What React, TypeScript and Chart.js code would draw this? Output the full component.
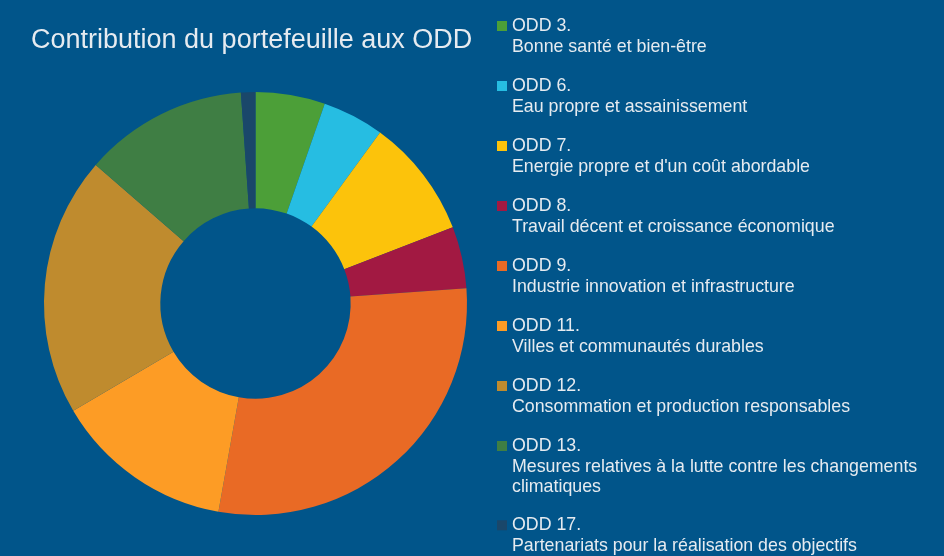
import React, { useEffect, useRef } from "react";
import { Chart, registerables } from "chart.js";

Chart.register(...registerables);

const TITLE = "Contribution du portefeuille aux ODD";
const codes = ["ODD 3.", "ODD 6.", "ODD 7.", "ODD 8.", "ODD 9.", "ODD 11.", "ODD 12.", "ODD 13.", "ODD 17."];
const descriptions: string[][] = [
  ["Bonne santé et bien-être"],
  ["Eau propre et assainissement"],
  ["Energie propre et d'un coût abordable"],
  ["Travail décent et croissance économique"],
  ["Industrie innovation et infrastructure"],
  ["Villes et communautés durables"],
  ["Consommation et production responsables"],
  ["Mesures relatives à la lutte contre les changements", "climatiques"],
  ["Partenariats pour la réalisation des objectifs"],
];
const values = [5.3, 4.7, 9.1, 4.7, 28.9, 13.7, 19.8, 12.5, 1.1];
const colors = ["#4C9F38", "#26BDE2", "#FCC30B", "#A21942", "#E96A25", "#FD9C25", "#BF8B2E", "#3F7E44", "#1A476A"];

const BG = "#01558A";
const TEXT = "#E6EBF0";
const FONT = "'Liberation Sans', Arial, Helvetica, sans-serif";

const overlayPlugin = {
  id: "overlay",
  beforeDraw(chart: any) {
    const ctx = chart.ctx;
    ctx.save();
    ctx.fillStyle = BG;
    ctx.fillRect(0, 0, chart.width, chart.height);
    ctx.restore();
  },
  afterDraw(chart: any) {
    const ctx = chart.ctx;
    ctx.save();
    ctx.fillStyle = TEXT;
    ctx.textBaseline = "alphabetic";
    ctx.textAlign = "left";
    ctx.font = `27px ${FONT}`;
    ctx.fillText(TITLE, 31, 48);

    const ds = chart.data.datasets[0];
    let y = 31;
    const lineH = 20.5;
    ctx.font = `17.8px ${FONT}`;
    for (let i = 0; i < codes.length; i++) {
      ctx.fillStyle = ds.backgroundColor[i];
      ctx.fillRect(497, y - 10, 10, 10);
      ctx.fillStyle = TEXT;
      ctx.fillText(codes[i], 512, y);
      const desc = descriptions[i];
      for (let j = 0; j < desc.length; j++) {
        ctx.fillText(desc[j], 512, y + lineH * (j + 1));
      }
      y += 60 + (desc.length - 1) * 19.3;
    }
    ctx.restore();
  },
};

export default function App() {
  const ref = useRef<HTMLCanvasElement | null>(null);
  useEffect(() => {
    document.body.style.margin = "0";
    document.body.style.background = BG;
    if (!ref.current) return;
    const chart = new Chart(ref.current, {
      type: "doughnut",
      data: {
        labels: codes.map((c, i) => c + " " + descriptions[i].join(" ")),
        datasets: [
          {
            data: values,
            backgroundColor: colors,
            borderWidth: 0,
            hoverOffset: 0,
            offset: 0,
          },
        ],
      },
      options: {
        responsive: false,
        animation: false,
        cutout: "45%",
        rotation: 0,
        layout: { padding: { left: 44, top: 92, right: 477, bottom: 41 } },
        plugins: {
          legend: { display: false },
          title: { display: false },
          tooltip: { enabled: false },
        },
      },
      plugins: [overlayPlugin],
    });
    return () => chart.destroy();
  }, []);
  return (
    <div style={{ width: 944, height: 556 }}>
      <canvas ref={ref} width={944} height={556} style={{ display: "block" }} />
    </div>
  );
}
